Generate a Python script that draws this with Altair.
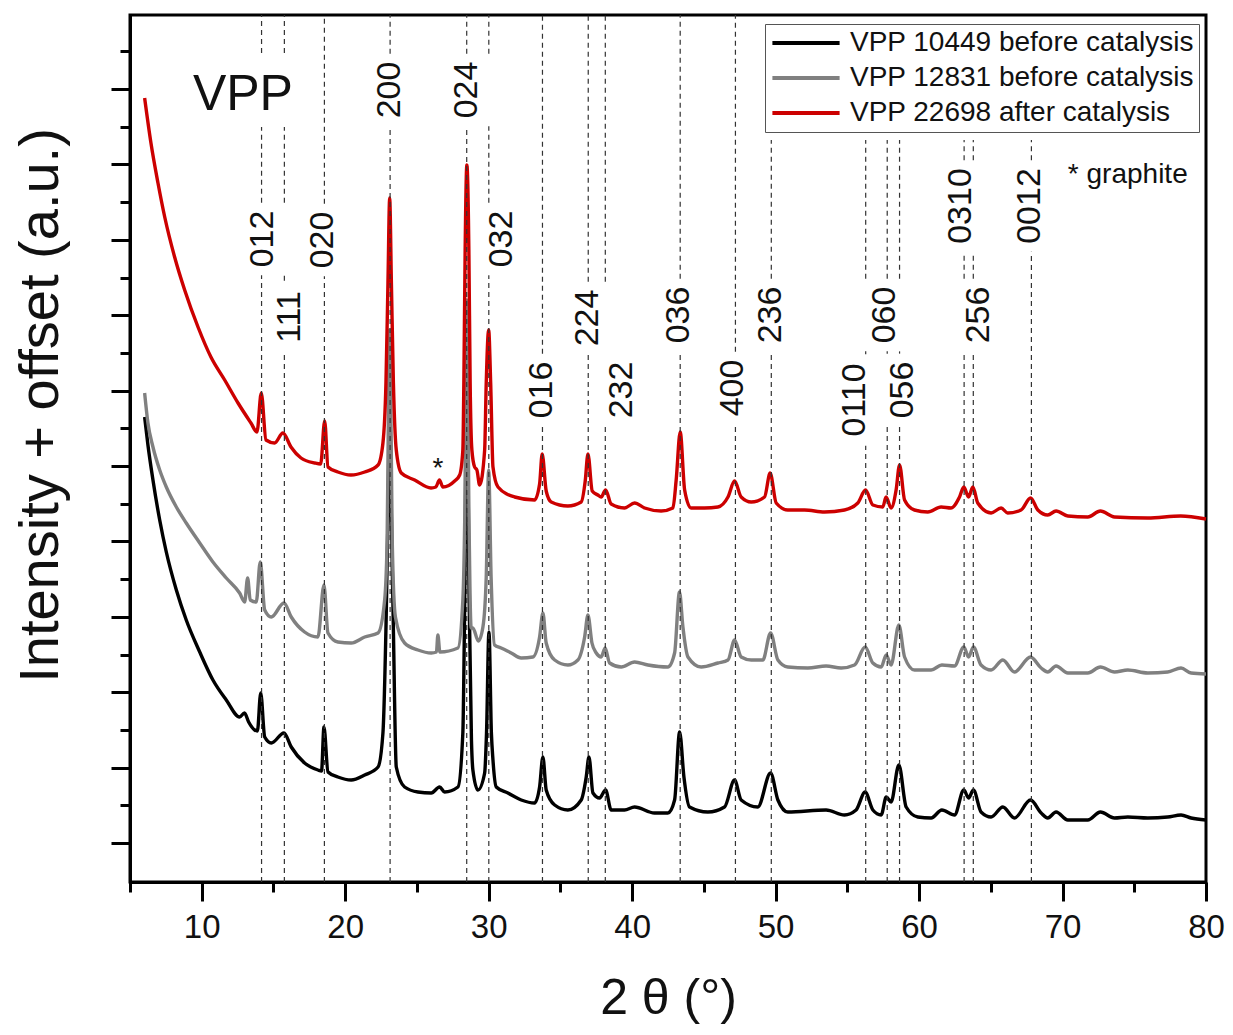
import altair as alt
import pandas as pd

FONT = "Liberation Sans, Arial, Helvetica, sans-serif"

# ---------------- data (2theta in degrees, intensity + offset in a.u.) ----------------
series_names = ["VPP 10449 before catalysis", "VPP 12831 before catalysis", "VPP 22698 after catalysis"]
series_colors = ["#000000", "#808080", "#CC0000"]

black_2theta = [6.02, 6.25, 6.6, 7.07, 7.53, 8.23, 8.92, 9.86, 10.78, 11.71, 12.64, 12.98, 13.27, 13.69,
                13.88, 14.11, 14.39, 14.85, 15.73, 16.24, 17.17, 18.1, 18.35, 18.52, 18.8, 19.49, 20.42,
                21.36, 22.29, 22.63, 22.85, 23.0, 23.1, 23.2, 23.35, 23.56, 24.14, 25.07, 26.0, 26.58,
                26.93, 27.86, 28.2, 28.33, 28.48, 28.64, 28.8, 28.9, 29.25, 29.72, 29.85, 30.02, 30.19,
                30.3, 30.53, 31.34, 32.27, 33.2, 33.55, 33.78, 34.01, 34.6, 35.52, 36.45, 36.8, 36.99,
                37.27, 37.73, 38.15, 38.54, 39.47, 40.17, 41.56, 42.49, 42.96, 43.31, 43.61, 44.0, 45.28,
                46.44, 47.14, 47.6, 48.76, 49.65, 50.16, 50.85, 53.52, 54.8, 55.61, 56.24, 56.78, 57.36,
                57.71, 58.05, 58.59, 59.1, 59.91, 60.84, 61.59, 62.47, 63.12, 63.45, 63.79, 64.32, 65.02,
                65.84, 66.65, 67.77, 68.51, 68.97, 69.55, 70.37, 71.76, 72.64, 73.62, 74.55, 75.94, 77.33,
                78.26, 78.96, 79.98]
black_int = [465, 437, 402, 362, 330, 292, 262, 230, 202, 182, 165, 169, 160, 152,
             151, 189, 145, 139, 149, 135, 119, 112, 111, 155, 110, 105, 102,
             107, 115, 149, 260, 380, 482, 380, 260, 115, 95, 90, 89, 95,
             90, 95, 149, 282, 502, 282, 142, 112, 92, 109, 149, 250, 149,
             122, 95, 89, 82, 79, 95, 125, 92, 77, 72, 82, 105, 125,
             89, 84, 92, 72, 72, 75, 69, 69, 82, 150, 105, 75, 70,
             75, 102, 82, 75, 109, 82, 70, 72, 67, 72, 90, 72, 67,
             85, 80, 117, 75, 65, 64, 72, 67, 92, 84, 92, 70, 65,
             75, 64, 82, 69, 64, 70, 62, 62, 70, 64, 65, 64, 65,
             67, 64, 62]

gray_2theta = [6.02, 6.25, 6.6, 7.07, 7.53, 8.23, 8.92, 9.86, 10.78, 11.71, 12.64, 12.99, 13.2, 13.38,
               13.8, 14.08, 14.39, 14.85, 15.73, 16.24, 17.17, 18.1, 18.52, 18.8, 19.49, 20.42, 21.36,
               22.29, 22.75, 22.92, 23.0, 23.1, 23.2, 23.28, 23.5, 24.14, 25.07, 26.0, 26.36, 26.46, 26.6,
               27.86, 28.2, 28.33, 28.48, 28.63, 28.78, 28.9, 29.28, 29.6, 29.83, 30.0, 30.17, 30.41,
               30.87, 31.57, 32.27, 33.08, 33.55, 33.78, 34.01, 34.6, 35.52, 36.22, 36.69, 36.92, 37.2,
               37.5, 37.84, 38.12, 38.43, 39.24, 40.17, 41.1, 42.49, 42.96, 43.3, 43.54, 43.89, 44.81,
               45.98, 46.68, 47.14, 47.6, 48.3, 49.11, 49.65, 50.16, 50.85, 52.25, 53.52, 54.57, 55.5,
               56.24, 56.78, 57.36, 57.71, 58.05, 58.59, 58.99, 59.68, 60.84, 61.59, 62.47, 63.12, 63.45,
               63.79, 64.32, 65.02, 65.84, 66.65, 67.77, 68.51, 68.97, 69.55, 70.37, 71.76, 72.64, 73.62,
               74.55, 75.94, 77.33, 78.26, 78.96, 80.0]
gray_int = [489, 459, 435, 412, 395, 375, 359, 339, 320, 304, 289, 280, 304, 282,
            280, 320, 272, 265, 279, 265, 250, 245, 297, 249, 240, 239, 245,
            249, 282, 340, 450, 552, 450, 340, 265, 239, 232, 229, 230, 247, 230,
            234, 282, 362, 582, 362, 254, 254, 241, 255, 305, 412, 305, 237,
            234, 229, 224, 225, 245, 269, 239, 222, 217, 222, 245, 267, 239,
            229, 225, 234, 219, 215, 220, 217, 215, 229, 290, 255, 225, 215,
            219, 222, 242, 225, 222, 222, 249, 222, 215, 214, 216, 214, 217,
            235, 219, 215, 227, 217, 257, 225, 212, 212, 217, 216, 235, 225,
            235, 217, 212, 222, 210, 225, 214, 210, 216, 209, 209, 215, 210,
            212, 209, 210, 214, 209, 208]

red_2theta = [6.02, 6.46, 6.95, 7.42, 8.11, 8.81, 9.74, 10.64, 11.6, 12.53, 13.43, 13.85, 14.15, 14.48,
              15.08, 15.66, 16.22, 16.92, 17.87, 18.29, 18.57, 18.8, 19.49, 20.4, 21.36, 22.29, 22.63,
              22.84, 22.98, 23.1, 23.22, 23.36, 23.56, 23.91, 24.84, 25.98, 26.32, 26.57, 26.81, 27.63,
              27.98, 28.2, 28.27, 28.36, 28.48, 28.62, 28.71, 28.83, 29.02, 29.18, 29.37, 29.72, 29.83,
              30.0, 30.14, 30.3, 30.65, 31.81, 33.2, 33.55, 33.73, 34.01, 34.36, 35.52, 36.45, 36.73,
              36.92, 37.22, 37.61, 37.84, 38.15, 38.54, 39.47, 40.17, 40.87, 42.02, 42.84, 43.07, 43.35,
              43.66, 44.11, 45.05, 45.98, 46.68, 47.14, 47.6, 48.3, 49.23, 49.62, 50.04, 50.85, 52.02,
              53.41, 54.8, 55.73, 56.27, 56.78, 57.47, 57.7, 58.05, 58.4, 58.64, 58.99, 59.68, 60.61,
              61.54, 62.23, 62.82, 63.12, 63.45, 63.75, 64.09, 65.02, 65.72, 66.18, 67.11, 67.77, 68.28,
              68.97, 69.55, 70.37, 71.76, 72.64, 73.62, 75.94, 78.24, 80.0]
red_int = [784, 739, 699, 665, 625, 592, 555, 525, 502, 479, 459, 450, 489, 442,
           439, 449, 435, 424, 419, 418, 461, 415, 410, 407, 410, 417, 439,
           499, 599, 684, 599, 499, 432, 409, 402, 394, 395, 402, 395, 401,
           407, 432, 499, 632, 717, 632, 499, 432, 415, 412, 397, 432, 499,
           552, 499, 415, 395, 385, 382, 398, 428, 391, 380, 376, 380, 401,
           428, 391, 387, 385, 392, 378, 374, 379, 374, 371, 374, 402, 450,
           392, 374, 374, 375, 385, 401, 385, 380, 385, 409, 379, 372, 372,
           370, 372, 379, 392, 377, 375, 385, 374, 392, 417, 382, 372, 370,
           375, 374, 385, 395, 385, 395, 379, 369, 374, 369, 372, 384, 372,
           367, 371, 366, 365, 371, 365, 364, 366, 363]

# reflections (VPP) : dashed reference lines and their labels
peak_labels = ["012", "111", "020", "200", "024", "032", "016", "224", "232", "036", "400", "236",
               "0110", "060", "056", "0310", "256", "0012"]
peak_lines = [14.17, 15.76, 18.55, 23.13, 28.47, 30.01, 33.75, 36.94, 38.13, 43.35, 47.2, 49.7,
              56.28, 57.78, 58.64, 63.14, 63.78, 67.83]
label_x = [14.30, 16.18, 18.48, 23.15, 28.52, 30.92, 33.75, 36.92, 39.32, 43.26, 47.06, 49.7,
           55.52, 57.65, 58.91, 62.91, 64.16, 67.75]
label_y = [643, 565, 642, 792, 792, 643, 492, 564, 492, 567, 494, 567,
           482, 567, 492, 676, 567, 676]

# other annotations
note_text = ["VPP", "*", "* graphite"]
note_x = [12.87, 26.46, 70.37]
note_y = [772, 405, 699]

x_major = [10, 20, 30, 40, 50, 60, 70, 80]
x_minor = [5, 15, 25, 35, 45, 55, 65, 75]
y_major = [39, 114, 190, 265, 341, 416, 491, 567, 642, 718, 793]
y_minor = [77, 152, 227, 303, 378, 454, 529, 604, 680, 755, 831]

# ---------------- layout helpers ----------------
W, H = 1076, 867
FS_PEAK = 34
PX_PER_DEG = W / 75.0
LEGEND_LEFT_DEG = 49.25
LEGEND_BOTTOM = 742
VPP_BOX = (9.25, 16.6, 755, 829)

seg_rows = []
for xl in peak_lines:
    top = LEGEND_BOTTOM if xl > LEGEND_LEFT_DEG else H
    gaps = []
    for t, lx, ly in zip(peak_labels, label_x, label_y):
        if abs(lx - xl) * PX_PER_DEG < 22:
            h = len(t) * 0.556 * FS_PEAK / 2 + 8
            gaps.append((ly - h, ly + h))
    if VPP_BOX[0] <= xl <= VPP_BOX[1]:
        gaps.append((VPP_BOX[2], VPP_BOX[3]))
    gaps.sort()
    start = 0
    for g0, g1 in gaps:
        if g0 > start:
            seg_rows.append({"x": xl, "y1": start, "y2": g0})
        start = max(start, g1)
    if start < top:
        seg_rows.append({"x": xl, "y1": start, "y2": top})
seg_df = pd.DataFrame(seg_rows)

x_scale = alt.Scale(domain=[5, 80], nice=False, zero=False)
y_scale = alt.Scale(domain=[0, H], nice=False, zero=False)
color_scale = alt.Scale(domain=series_names, range=series_colors)

x_axis = alt.Axis(orient="bottom", values=x_major, format="d", tickSize=19, labelFontSize=33,
                  labelPadding=10, labelColor="#111", labelFlush=False, grid=False,
                  title="2 θ (°)", titleFontSize=50, titleFontWeight="normal", titleColor="#111",
                  titleX=538, titleY=131, titleAlign="center", titleBaseline="alphabetic")
y_axis = alt.Axis(orient="left", values=y_major, tickSize=19, labels=False, grid=False,
                  title="Intensity + offset (a.u.)", titleFontSize=56, titleFontWeight="normal",
                  titleColor="#111", titleX=-90, titleY=390, titleAngle=270, titleAlign="center",
                  titleBaseline="middle")
x_axis_minor = alt.Axis(orient="bottom", values=x_minor, tickSize=10, labels=False, domain=False,
                        grid=False, title=None)
y_axis_minor = alt.Axis(orient="left", values=y_minor, tickSize=10, labels=False, domain=False,
                        grid=False, title=None)

legend = alt.Legend(title=None, orient="none", legendX=635, legendY=9, direction="vertical",
                    symbolType="M-2.8,0H2.8", symbolSize=576, symbolStrokeWidth=4, symbolOffset=22,
                    labelOffset=30, labelFontSize=28, labelFont=FONT, labelColor="#111",
                    labelLimit=600, strokeColor="#555", fillColor="white", padding=5, rowPadding=7)


def curve(xs, ys, name, xa, ya):
    df = pd.DataFrame({"two_theta": xs, "intensity": ys, "series": name})
    return alt.Chart(df).mark_line(strokeWidth=3.4, strokeJoin="round", interpolate="monotone").encode(
        x=alt.X("two_theta:Q", scale=x_scale, axis=xa),
        y=alt.Y("intensity:Q", scale=y_scale, axis=ya),
        color=alt.Color("series:N", scale=color_scale, legend=legend),
    )


black_line = curve(black_2theta, black_int, series_names[0], x_axis, y_axis)
gray_line = curve(gray_2theta, gray_int, series_names[1], None, None)
red_line = curve(red_2theta, red_int, series_names[2], None, None)

rules = alt.Chart(seg_df).mark_rule(strokeDash=[5, 4], strokeWidth=1.2, color="#333").encode(
    x=alt.X("x:Q", scale=x_scale, axis=None),
    y=alt.Y("y1:Q", scale=y_scale, axis=None),
    y2="y2:Q",
)

lab_df = pd.DataFrame({"label": peak_labels, "lx": label_x, "ly": label_y})
peak_text = alt.Chart(lab_df).mark_text(angle=270, align="center", baseline="middle",
                                        fontSize=FS_PEAK, font=FONT, color="#111").encode(
    x=alt.X("lx:Q", scale=x_scale, axis=None),
    y=alt.Y("ly:Q", scale=y_scale, axis=None),
    text="label:N",
)

note_df = pd.DataFrame({"t": note_text, "nx": note_x, "ny": note_y})


def note(i, fs, align):
    return alt.Chart(note_df.iloc[[i]]).mark_text(align=align, baseline="alphabetic", fontSize=fs,
                                                   font=FONT, color="#111").encode(
        x=alt.X("nx:Q", scale=x_scale, axis=None),
        y=alt.Y("ny:Q", scale=y_scale, axis=None),
        text="t:N")


minor_df = pd.DataFrame({"mx": [5], "my": [0]})
minor = alt.Chart(minor_df).mark_point(opacity=0).encode(
    x=alt.X("mx:Q", scale=x_scale, axis=x_axis_minor),
    y=alt.Y("my:Q", scale=y_scale, axis=y_axis_minor),
)

chart = alt.layer(
    black_line, gray_line, red_line, rules, peak_text,
    note(0, 50, "center"), note(1, 28, "center"), note(2, 28, "left"), minor,
).resolve_axis(x="independent", y="independent").properties(
    width=W, height=H,
    autosize=alt.AutoSizeParams(type="none"),
    padding={"left": 122, "top": 7, "right": 19, "bottom": 144},
).configure_axis(
    domainColor="black", tickColor="black", domainWidth=3, tickWidth=3,
    labelFont=FONT, titleFont=FONT,
).configure_view(stroke="black", strokeWidth=3)

chart.save("out.html", embed_options={"renderer": "svg", "actions": False})
